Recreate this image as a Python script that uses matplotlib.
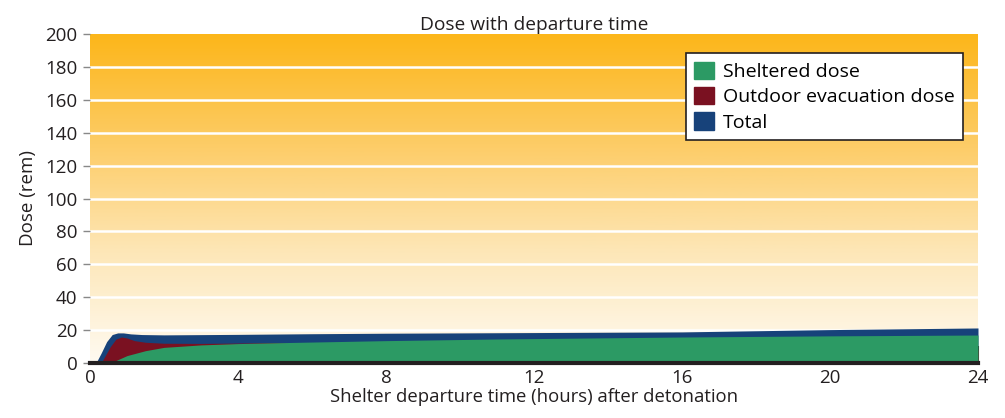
import numpy as np
import matplotlib.pyplot as plt
from matplotlib.colors import LinearSegmentedColormap
from matplotlib.patches import Patch

plt.rcParams['font.family'] = ['Open Sans', 'DejaVu Sans']

# hours after detonation -> dose (rem)
total_t = [0, 0.16, 0.3, 0.45, 0.6, 0.75, 0.9, 1.1, 1.4, 2, 4, 6, 8, 10, 12, 16, 18, 20, 22, 24]
total_dose = [0, 0, 6, 13, 17.3, 18.3, 18.3, 17.7, 17.3, 17.1, 17.4, 17.8, 18.1, 18.3, 18.5, 18.9, 19.6, 20.3, 20.8, 21.3]

outdoor_t = [0, 0.3, 0.4, 0.55, 0.7, 0.85, 1.0, 1.2, 1.5, 2, 3, 4, 5, 6, 8, 12, 24]
outdoor_dose = [0, 0, 4, 10, 14.5, 15.8, 15.2, 13.6, 12.6, 12.0, 11.9, 12.1, 12.4, 12.2, 11.5, 10.5, 8.0]

shelter_t = [0, 0.55, 0.8, 1.0, 1.5, 2, 3, 4, 5, 8, 11, 16, 20, 24]
shelter_dose = [0, 0, 2.5, 4.5, 7.5, 9.5, 11.0, 11.8, 12.3, 13.6, 14.6, 15.8, 16.5, 17.0]

x_ticks = [0, 4, 8, 12, 16, 20, 24]
y_ticks = [0, 20, 40, 60, 80, 100, 120, 140, 160, 180, 200]

blue = '#17427a'
red = '#7a1121'
green = '#2c9a64'
ink = '#231f20'

fig = plt.figure(figsize=(10.05, 4.18), dpi=100)
ax = fig.add_axes([90/1005, 1 - 363/418, 888/1005, 329/418])

# gradient background
grad = LinearSegmentedColormap.from_list('bg', ['#fffaf1', '#fde7b8', '#fdcc66', '#fcb61a'])
g = np.linspace(0, 1, 256).reshape(-1, 1)
ax.imshow(g, cmap=grad, aspect='auto', origin='lower', extent=[0, 24, 0, 200], zorder=0)

for yv in y_ticks[1:-1]:
    ax.axhline(yv, color='white', lw=1.8, zorder=1)

ax.fill_between(total_t, 0, total_dose, color=blue, lw=0, zorder=2)
ax.fill_between(outdoor_t, 0, outdoor_dose, color=red, lw=0, zorder=3)
ax.fill_between(shelter_t, 0, shelter_dose, color=green, lw=0, zorder=4)

ax.set_xlim(0, 24)
ax.set_ylim(0, 200)

for s in ['top', 'right', 'left']:
    ax.spines[s].set_visible(False)
ax.spines['bottom'].set_linewidth(3)
ax.spines['bottom'].set_color(ink)
ax.spines['bottom'].set_zorder(6)

ax.set_xticks(x_ticks)
ax.set_yticks(y_ticks)
ax.tick_params(axis='x', direction='in', length=12, width=1.5, color=ink,
               labelsize=13.5, labelcolor=ink, pad=4)
ax.tick_params(axis='y', direction='out', length=5, width=1, color='#888888',
               labelsize=13.5, labelcolor=ink, pad=4)
for tk in ax.xaxis.get_major_ticks():
    tk.tick1line.set_zorder(7)
ax.xaxis.get_major_ticks()[0].tick1line.set_visible(False)
ax.set_axisbelow(False)

ax.set_title('Dose with departure time', fontsize=13.8, color=ink, pad=3)
ax.set_xlabel('Shelter departure time (hours) after detonation', fontsize=13.3, color=ink, labelpad=1)
ax.set_ylabel('Dose (rem)', fontsize=13.5, color=ink, labelpad=6)

handles = [Patch(color=green, label='Sheltered dose'),
           Patch(color=red, label='Outdoor evacuation dose'),
           Patch(color=blue, label='Total')]
leg = ax.legend(handles=handles, loc='upper right', bbox_to_anchor=(963/1005, 1 - 53/418),
                bbox_transform=fig.transFigure, fontsize=14, frameon=True, fancybox=False,
                edgecolor=ink, framealpha=1, borderpad=0.45, labelspacing=0.3,
                handlelength=1.0, handleheight=1.0, handletextpad=0.45, borderaxespad=0)
leg.get_frame().set_linewidth(1.2)
leg.set_zorder(10)

fig.savefig('out.png', dpi=100)
